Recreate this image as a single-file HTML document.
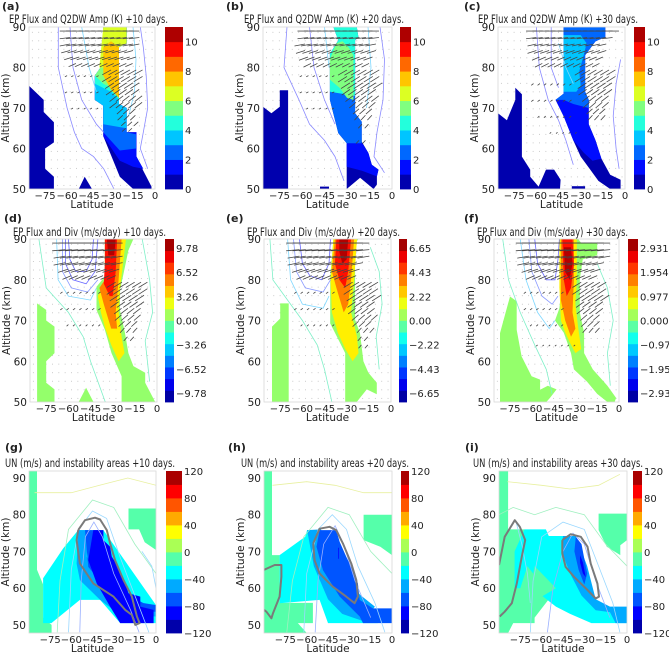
<!DOCTYPE html>
<html><head><meta charset="utf-8">
<style>
html,body{margin:0;padding:0;background:#fff;}
svg{display:block;font-family:"DejaVu Sans","Liberation Sans",sans-serif;}
</style></head>
<body>
<svg id="fig" width="669" height="652" viewBox="0 0 669 652" xmlns="http://www.w3.org/2000/svg"></svg>
<script>
// ---------- data (lat, alt) ----------
const ampTicks=[0,2,4,6,8,10];
const unTicks=[-120,-80,-40,0,40,80,120];
const divTicksD=[-9.78,-6.52,-3.26,0,3.26,6.52,9.78];
const divTicksE=[-6.65,-4.43,-2.22,0,2.22,4.43,6.65];
const divTicksF=[-2.931,-1.954,-0.977,0,0.977,1.954,2.931];
const latTicks=[-75,-60,-45,-30,-15,0];
const altTicks=[50,60,70,80,90];

const fillsA=[
 [0,[[-86,75.5],[-76,72],[-76,69],[-69,66.5],[-69,61.5],[-75,60],[-75,55],[-69,53],[-69,50],[-86,50]]],
 [0,[[-52,50],[-48,53],[-43,50]]],
 [0,[[-35.3,90],[-19.4,90],[-19.4,86],[-24.6,85],[-24.6,71],[-19.4,70],[-19.4,64],[-12.6,64],[-12.6,58],[-8,54.5],[-2.4,50.6],[-2.4,50],[-14.9,50],[-24,53],[-35.3,63],[-35.3,70.6],[-41,72],[-41,78],[-35.3,81]]],
 [1,[[-35.3,90],[-19.4,90],[-19.4,86],[-24.6,85],[-24.6,71],[-19.4,70],[-19.4,64],[-12.6,64],[-12.6,58],[-8,55],[-15,55.5],[-24,57],[-35.3,63],[-35.3,70.6],[-41,72],[-41,78],[-35.3,81]]],
 [2,[[-35.3,90],[-19.4,90],[-19.4,86],[-24.6,85],[-24.6,71],[-19.4,70],[-19.4,64],[-13,63.5],[-13,60],[-24,59.5],[-35.3,64],[-35.3,70.6],[-41,72],[-41,78],[-35.3,81]]],
 [3,[[-35.3,90],[-19.4,90],[-19.4,86],[-24.6,85],[-24.6,71],[-19.4,70],[-19.4,65],[-35.3,66],[-35.3,70.6],[-41,72],[-41,78],[-35.3,81]]],
 [4,[[-35.3,90],[-19.4,90],[-19.4,86],[-24.6,85],[-24.6,72],[-30,74],[-41,76],[-41,78],[-35.3,81]]],
 [5,[[-35.3,90],[-19.4,90],[-19.4,86],[-24.6,85],[-24.6,74],[-35.3,76],[-41,78],[-35.3,81]]],
 [6,[[-35.3,90],[-19.4,90],[-19.4,86],[-24.6,85],[-24.6,77],[-35.3,80],[-38,80]]],
 [7,[[-35.3,85],[-30,86.5],[-24.6,85],[-24.6,72.5],[-30,74.5],[-35.3,78]]]
];
const fillsB=[
 [0,[[-86,70.3],[-80.4,68.7],[-74.8,70.3],[-74.8,74.4],[-69.3,74.4],[-69.3,50],[-86,50]]],
 [0,[[-48,50],[-48,50.6],[-42,50.6],[-42,50]]],
 [0,[[-39.1,90],[-23.5,90],[-22.4,87.5],[-24.6,86.7],[-24.6,68.7],[-20.2,66.6],[-20.2,61.7],[-15.7,58.9],[-13.5,56],[-9,54.8],[-10.1,53.1],[-10.1,51.1],[-12.3,50],[-21.3,52.8],[-30.2,50],[-30.2,61.3],[-35.8,63.8],[-41.4,72],[-41.4,83.4],[-35.8,86.7]]],
 [1,[[-30.2,61.3],[-20.2,61.5],[-15.7,58.9],[-13.5,56],[-9,54.8],[-10.1,53.1],[-20,54.5],[-30.2,55.5]]],
 [2,[[-41.4,74],[-24.6,74],[-24.6,68.7],[-20.2,66.6],[-20.2,61.3],[-30.2,61.3],[-35.8,63.8],[-41.4,72]]],
 [4,[[-39.1,90],[-23.5,90],[-22.4,87.5],[-24.6,86.7],[-24.6,73],[-41.4,74],[-41.4,83.4],[-35.8,86.7]]],
 [5,[[-41.4,82],[-37,86],[-33,86.5],[-29,85],[-25.7,83],[-25.7,72],[-30,72.5],[-35,75],[-41.4,77]]]
];
const fillsC=[
 [0,[[-86,68.7],[-80,67],[-74.3,72],[-74.3,75],[-69.8,73.4],[-69.8,58],[-64.2,54.8],[-64.2,53],[-58.5,50.6],[-53.5,54.8],[-48,54.8],[-43.6,52.3],[-44,50],[-86,50]]],
 [0,[[-36,50],[-36,50.7],[-27,50.7],[-27,50]]],
 [0,[[-41.6,90],[-13.4,90],[-13.4,87.5],[-20,86.5],[-27,83],[-27,74],[-24.6,72],[-24.6,66],[-20,62],[-16,57.5],[-10,53.5],[-3,52.3],[-3,50],[-10,50],[-18,52],[-24,55],[-30,58],[-35,62],[-41.6,68],[-47,72],[-41.6,73.5]]],
 [1,[[-41.6,90],[-13.4,90],[-13.4,87.5],[-20,86.5],[-27,83],[-27,74],[-24.6,72],[-24.6,66],[-20,62],[-16,57.5],[-22,57],[-28,59],[-35,62],[-41.6,68],[-47,72],[-41.6,73.5]]],
 [2,[[-41.6,90],[-13.4,90],[-13.4,87.5],[-20,86.5],[-27,83],[-27,74],[-24.6,72],[-24.6,70],[-35,71],[-41.6,72],[-47,72],[-41.6,73.5]]],
 [3,[[-41.6,88],[-30,88],[-26,86],[-28,83],[-31,79],[-30,75.5],[-33,74],[-41.6,74]]]
];
const fillsD=[
 [0.52,[[-81.2,74.2],[-75,72.6],[-75,70],[-69.4,68.5],[-69.4,62],[-75,60],[-75,54.7],[-69.4,53.1],[-69.4,50],[-81.2,50]]],
 [0.52,[[-53,50],[-48,53.5],[-43,50]]],
 [0.52,[[-41,78.3],[-41,72.6],[-35.3,67.7],[-30.8,62],[-24,56.3],[-24,50],[-1.2,50],[-8,54.7],[-8,57.2],[-16,58.8],[-19.4,62],[-21.7,66.9],[-25.1,72.6],[-25,77.5],[-19.4,87.2],[-16,90],[-35.3,90],[-35.3,80.8]]],
 [0.64,[[-35.3,90],[-21,90],[-25,78],[-26,72],[-24,66],[-22,62],[-26,60],[-31,64],[-35,68],[-38,72],[-40,76],[-35.3,80]]],
 [0.75,[[-35.3,90],[-24,90],[-26,80],[-28,72],[-27,68],[-31,68],[-36,74],[-39,78],[-35.3,80]]],
 [0.86,[[-35.3,90],[-27,90],[-28,82],[-30,76],[-32,76],[-36,79],[-35.3,84]]],
 [0.95,[[-34,90],[-28,90],[-29,86],[-33,86]]]
];
const fillsE=[
 [0.52,[[-80.6,68.5],[-75,70.5],[-75,74.2],[-69.3,74.2],[-69.3,50],[-80.6,50]]],
 [0.52,[[-41.2,80.7],[-41.2,69.3],[-31,62],[-31,50],[-23.2,50],[-16.4,53.1],[-9.6,51.9],[-9.6,54.7],[-15.3,57.2],[-18.7,60],[-21,66.9],[-24.3,70.2],[-24.3,88.9],[-22,90],[-39,90]]],
 [0.64,[[-39,90],[-23,90],[-25,80],[-27,72],[-23,66],[-22,62],[-26,60],[-31,63],[-36,67],[-40,72],[-41,80]]],
 [0.75,[[-38,90],[-25,90],[-27,80],[-29,74],[-32,72],[-37,78],[-40,82]]],
 [0.86,[[-37,90],[-27,90],[-29,82],[-31,78],[-35,80],[-38,84]]],
 [0.95,[[-35,90],[-29,90],[-30,85],[-33,84],[-35,87]]]
];
const fillsF=[
 [0.52,[[-81.9,66.9],[-75,75.9],[-70.4,74.7],[-70.4,67.7],[-67,61.2],[-60.1,56.3],[-54.3,55.5],[-54.3,53],[-49,54],[-42.9,53.1],[-47.5,51],[-50,50],[-81.9,50]]],
 [0.52,[[-41,90],[-28,90],[-26,89],[-15,89],[-15,86],[-25,85],[-27,80],[-27,72],[-24,67],[-24,62],[-18,58],[-8,54],[-2,51],[-3,50],[-8,50],[-15,52],[-22,55],[-31,58],[-33,62],[-38,67],[-44,70],[-41,73],[-39,80]]],
 [0.64,[[-41,90],[-29,90],[-29,80],[-30,74],[-28,68],[-26,63],[-30,62],[-33,64],[-37,67],[-40,70],[-41,78]]],
 [0.75,[[-40,90],[-31,90],[-31,80],[-32,72],[-30,68],[-33,66],[-37,70],[-40,75]]],
 [0.86,[[-39,90],[-32,90],[-31,84],[-33,78],[-36,76],[-38,80]]],
 [0.95,[[-38,88],[-33,88],[-32,84],[-34,80],[-37,82]]]
];
const fillsG=[
 [5,[[-90,92],[-84.3,92],[-84.3,65],[-80,61],[-80,52],[-74,50],[-74,47.8],[-90,47.8]]],
 [5,[[-19.5,81.7],[0,81.7],[0,70.4],[-8,72.5],[-12,76],[-19.5,76]]],
 [4,[[-80,62.7],[-65.8,70.8],[-55.1,75.8],[-37.3,75.8],[0,55.4],[0,50.5],[-25.4,50.5],[-39.6,56.8],[-53.9,56.8],[-74.1,50.5],[-80,50.5]]],
 [3,[[-55.1,75.8],[-48,75.8],[-49.1,68.6],[-39.6,62.2],[-26.6,57.2],[0,55.4],[0,52.3],[-25.4,52.7],[-39.6,56.8],[-53.9,62.2],[-56.3,66.7]]],
 [2,[[-50.3,75.8],[-39.6,75.8],[-42,66.7],[-30,60.4],[-8.8,55.9],[0,55.4],[0,53.6],[-15.9,53.6],[-32.5,58.6],[-48,65.8]]],
 [1,[[-44.4,75.8],[-37.3,75.8],[-37.3,73.1],[-32.5,71.3],[-31.3,68.6],[-25.4,64.9],[-21.8,61.3],[-19.5,58.6],[-11.1,57.7],[-11.1,55],[-1.7,54.1],[-1.7,50.5],[-25.4,50.5],[-32.5,55],[-42,61.3],[-48,67.6]]]
];
const fillsH=[
 [5,[[-90,92],[-84.4,92],[-84.4,69],[-79,69],[-79,55],[-72,53],[-60,47.8],[-90,47.8]]],
 [5,[[-90,56],[-55.6,56],[-55.6,50.5],[-68,50.5],[-72,47.8],[-90,47.8]]],
 [5,[[-20,80],[0,80],[0,69],[-8.2,71.3],[-20,73.1]]],
 [4,[[-79,69],[-61,74],[-59.7,75.8],[-50.3,75.8],[-30,62],[-15,54.5],[-10,50.5],[-45,50.5],[-50.9,56.8],[-79,55.9]]],
 [3,[[-59.7,75.8],[-50,76],[-40,68],[-25,59],[-12,55],[-20,51],[-35,53],[-45,57],[-55,66]]],
 [2,[[-50.9,75.8],[-39.2,75.8],[-36.8,72.6],[-32.2,68.6],[-27.5,64.9],[-24,61.3],[-22.7,56.8],[-13.4,54.5],[0,54.5],[0,50.5],[-20.4,50.5],[-22.7,52.3],[-36.8,57.7],[-48.5,64.9],[-53.1,71.3]]],
 [1,[[-38,71],[-37.5,71],[-37.5,68],[-38,68]]]
];
const fillsI=[
 [5,[[-90,92],[-83.6,92],[-83.6,76],[-72,76],[-55,72],[-45,74],[-45,62],[-55,57],[-65,52],[-65,50.5],[-80,50.5],[-83.6,47.8],[-90,47.8]]],
 [5,[[-20,80.3],[0,80.3],[0,73.1],[-4.7,71.7],[-4.7,69],[-14.2,71.3],[-20,75.8]]],
 [4,[[-79,70],[-72,76],[-57,76],[-55,74.2],[-45,74.2],[-40,70],[-32,62],[-20,55],[-10,54],[0,54],[0,50.5],[-25,50.5],[-40,53],[-50,55],[-60,58],[-62,62],[-70,66],[-75,60],[-79,60]]],
 [5,[[-65,66],[-55,62],[-50,60],[-60,57.7],[-68,59]]],
 [3,[[-45,74.2],[-36,74.2],[-28,66],[-22,57],[-12,55],[0,55],[0,50.5],[-8,50.5],[-12,53.5],[-22,54],[-32,58],[-40,64],[-46,70]]],
 [2,[[-36,74],[-32,72],[-30,68],[-28,64],[-30,61],[-34,65],[-37,70]]],
 [1,[[-33,69],[-31,67],[-29,63],[-31,64],[-33,67]]]
];

const linesA=[
 ['#8a8aff',0.8,[[-66,90],[-66,80],[-60,70],[-55,64],[-50,60],[-42,58],[-35,55],[-28,50]]],
 ['#8a8aff',0.8,[[-58,90],[-56,80],[-50,72],[-40,66],[-35,64]]],
 ['#8a8aff',0.8,[[-10,90],[-8,85],[-6,78],[-5,70],[-8,64],[-10,60],[-5,55]]],
 ['#7fd8ff',0.8,[[-50,90],[-45,80],[-40,74]]],
 ['#7fd8ff',0.8,[[-15,90],[-13,82],[-14,74],[-18,68]]]
];
const linesB=[
 ['#8a8aff',0.8,[[-70,90],[-72,80],[-62,72],[-55,66],[-45,62],[-38,58],[-32,52]]],
 ['#8a8aff',0.8,[[-55,90],[-52,80],[-45,72],[-38,66]]],
 ['#8a8aff',0.8,[[-8,90],[-5,82],[-6,72],[-10,64],[-12,58],[-5,54]]],
 ['#7fd8ff',0.8,[[-45,90],[-42,80]]],
 ['#7fd8ff',0.8,[[-16,90],[-14,80],[-17,70]]]
];
const linesC=[
 ['#8a8aff',0.8,[[-60,90],[-58,80],[-52,72],[-45,67],[-40,62],[-35,56]]],
 ['#8a8aff',0.8,[[-50,90],[-50,80],[-45,75]]],
 ['#8a8aff',0.8,[[-3,82],[-6,76],[-8,68],[-6,60],[-4,55]]],
 ['#7fd8ff',0.8,[[-45,86],[-40,80],[-35,76]]]
];
const linesD=[
 ['#6a6aff',0.8,[[-62,90],[-62,84],[-57,80],[-48,79],[-42,82],[-40,90]]],
 ['#6a6aff',0.8,[[-60,90],[-59,85],[-55,82],[-48,82],[-44,85],[-43,90]]],
 ['#8a9aff',0.8,[[-64,90],[-64,82],[-58,78],[-47,77],[-40,80]]],
 ['#7fd8ff',0.8,[[-68,90],[-67,80],[-60,76],[-45,75],[-41,78]]],
 ['#7ff0c8',0.8,[[-80,90],[-75,78],[-70,76],[-60,72],[-50,66],[-45,60],[-40,55],[-35,50]]],
 ['#7ff0c8',0.8,[[-10,90],[-5,80],[-3,72],[-8,65],[-5,55]]]
];
const linesE=[
 ['#6a6aff',0.8,[[-62,90],[-60,84],[-55,81],[-47,80],[-42,84],[-41,90]]],
 ['#8a9aff',0.8,[[-66,90],[-64,82],[-58,78],[-46,77],[-41,80]]],
 ['#7fd8ff',0.8,[[-70,90],[-68,80],[-60,74],[-46,73],[-42,76]]],
 ['#7ff0c8',0.8,[[-82,90],[-80,80],[-72,76],[-60,70],[-50,64],[-45,58],[-40,50]]],
 ['#7ff0c8',0.8,[[-14,88],[-8,82],[-6,74],[-10,66],[-8,58]]]
];
const linesF=[
 ['#6a6aff',0.8,[[-58,90],[-56,84],[-50,80],[-44,80],[-42,85],[-41,90]]],
 ['#8a9aff',0.8,[[-62,90],[-60,82],[-53,76],[-46,74],[-42,76]]],
 ['#7fd8ff',0.8,[[-68,90],[-64,80],[-56,72],[-48,68],[-44,70]]],
 ['#7ff0c8',0.8,[[-80,90],[-76,80],[-68,72],[-58,64],[-50,58],[-46,52]]],
 ['#7ff0c8',0.8,[[-15,84],[-8,78],[-4,70],[-8,62],[-6,54]]]
];
const linesG=[
 ['#e8f0a0',0.8,[[-86,86],[-60,86],[-40,88],[-20,90],[0,88]]],
 ['#a0f0c0',0.8,[[-70,48],[-68,62],[-62,76],[-45,84],[-30,82],[-15,72],[0,64]]],
 ['#9ad8ff',0.8,[[-62,48],[-60,65],[-55,76],[-45,81],[-35,79],[-25,68],[-12,55],[-5,48]]],
 ['#9ab0ff',0.8,[[-54,48],[-53,62],[-50,74],[-44,78],[-38,74],[-30,64],[-18,54],[-12,48]]],
 ['#9ad8ff',0.8,[[-10,70],[-3,66],[0,60]]]
];
const linesH=[
 ['#e8f0a0',0.8,[[-84,88],[-60,89],[-40,88],[-20,86],[0,86]]],
 ['#a0f0c0',0.8,[[-74,48],[-70,62],[-62,74],[-45,82],[-30,80],[-15,70],[0,64]]],
 ['#9ad8ff',0.8,[[-62,48],[-60,64],[-52,76],[-42,80],[-32,76],[-24,66],[-12,56],[-5,48]]],
 ['#9ab0ff',0.8,[[-54,48],[-52,62],[-48,72],[-40,77],[-34,72],[-26,62],[-15,52]]]
];
const linesI=[
 ['#e8f0a0',0.8,[[-84,89],[-60,88],[-40,87],[-20,88],[-5,91]]],
 ['#a0f0c0',0.8,[[-90,80],[-80,82],[-65,80],[-50,82],[-30,80],[-15,72],[0,66]]],
 ['#9ad8ff',0.8,[[-68,48],[-66,62],[-60,74],[-45,78],[-30,76],[-20,66],[-10,56],[-5,48]]],
 ['#9ab0ff',0.8,[[-56,48],[-52,60],[-45,70],[-38,75],[-30,72],[-22,62],[-12,52]]],
 ['#9ad8ff',0.8,[[-78,78],[-74,72],[-70,64],[-68,56]]]
];
const grayG=[[[-55.1,75.8],[-50.3,78.5],[-43.2,79.2],[-39.6,78.7],[-34.9,75.8],[-32.5,72.2],[-29,67.6],[-23,62.2],[-17.1,57.7],[-13.5,52.3],[-11.6,50.5],[-14.7,50],[-17.1,52.7],[-21.8,54.1],[-30.1,57.7],[-44.4,61.3],[-53.9,66.7],[-56.3,73.1],[-55.1,75.8]]];
const grayH=[[[-55.4,72.2],[-50.9,76.2],[-43.9,76.7],[-39.2,75.8],[-34.5,72.2],[-28.6,66.7],[-25.1,62.2],[-24,57.7],[-26.3,55.9],[-32.2,57.7],[-41.6,60.4],[-50.9,64],[-54.4,67.6],[-55.4,72.2]],
 [[-90,65],[-82.5,66.3],[-77.8,66.3],[-77.8,63.1],[-79,57.7],[-83.7,53.2],[-84.8,51.8],[-88.3,53.6],[-90,54.1]]];
const grayI=[[[-45.5,73.1],[-39.6,74.7],[-32.5,74],[-27.8,71.3],[-25.5,66.7],[-20.8,61.3],[-19.7,57.7],[-22,57.2],[-27.8,59.5],[-37.3,63.1],[-43.2,65.8],[-45.5,69.5],[-45.5,73.1]],
 [[-90,66.3],[-86,74],[-78.9,78.5],[-75.4,76.7],[-71.6,73.1],[-74,68.6],[-77.5,61.3],[-81,55.9],[-86,53.6],[-89.5,52.3]]];

const fluxA=[[89,-58,-10,7,0],[87.4,-58,-10,7,0.3],[85.8,-58,-10,7,0.5],[84.2,-58,-12,6,0.6],[82.6,-56,-12,6,0.7],[81,-54,-12,5,0.8],[79.4,-30,-8,6,1.2],[77.8,-30,-8,6,1.3],[76.2,-28,-8,6,1.4],[74.6,-28,-8,5.5,1.4],[73,-26,-8,5,1.4],[71.4,-26,-8,5,1.4],[69.8,-22,-10,4,1.3],[68.2,-22,-10,3.5,1.2],[66.6,-20,-10,3,1],[65,-20,-12,2.5,0.8],[78,-60,-36,1.5,0.3],[74,-60,-36,1.5,0.3],[70,-56,-36,1.2,0.3]];
const fluxB=[[89,-56,-8,7,0],[87.4,-56,-8,7,0.3],[85.8,-58,-10,7,0.5],[84.2,-58,-10,6,0.7],[82.6,-56,-12,6,0.8],[81,-54,-12,5,0.9],[79.4,-30,-6,6,1.3],[77.8,-30,-6,6,1.4],[76.2,-28,-6,6,1.4],[74.6,-28,-8,5.5,1.4],[73,-26,-8,5,1.4],[71.4,-24,-10,4.5,1.4],[69.8,-22,-12,4,1.3],[68.2,-22,-12,3,1.2],[66,-20,-12,2.5,1],[62,-22,-14,2,0.8],[78,-60,-36,1.5,0.3],[74,-60,-36,1.5,0.3],[70,-56,-36,1.2,0.3]];
const fluxC=[[89,-60,-4,7,0],[87.4,-60,-8,7,0.3],[85.8,-60,-10,6,0.5],[84.2,-60,-12,6,0.7],[82.6,-58,-14,5,0.8],[81,-56,-14,5,0.9],[79.4,-28,-6,6,1.3],[77.8,-28,-6,6,1.4],[76.2,-26,-6,6,1.4],[74.6,-26,-8,5.5,1.4],[73,-24,-8,5,1.4],[71.4,-24,-10,4.5,1.4],[69.8,-22,-12,4,1.3],[68.2,-22,-12,3,1.2],[76,-62,-36,1.5,0.4],[72,-62,-36,1.5,0.4],[68,-58,-36,1.2,0.4],[64,-50,-30,1,0.3]];
const fluxD=[[89,-62,-20,9,0],[87.4,-62,-20,9,0.3],[85.8,-62,-20,8,0.5],[84.2,-62,-20,8,0.6],[82.6,-60,-22,7,0.8],[81,-58,-24,6,0.9],[79.4,-28,-6,6,1.3],[77.8,-28,-6,6,1.4],[76.2,-26,-6,6,1.4],[74.6,-26,-8,5.5,1.4],[73,-24,-8,5,1.4],[71.4,-24,-8,4.5,1.4],[69.8,-22,-10,4,1.3],[68.2,-22,-10,3,1.2],[66,-20,-12,2.5,1],[77,-64,-36,1.5,0.4],[73,-64,-36,1.5,0.4],[69,-60,-36,1.2,0.4]];
const fluxE=[[89,-62,-14,9,0],[87.4,-62,-14,9,0.3],[85.8,-62,-14,8,0.5],[84.2,-62,-16,8,0.6],[82.6,-60,-18,7,0.8],[81,-58,-20,6,0.9],[79.4,-26,-6,6,1.3],[77.8,-26,-6,6,1.4],[76.2,-24,-6,6,1.4],[74.6,-24,-8,5.5,1.4],[73,-24,-8,5,1.4],[71.4,-22,-8,4.5,1.4],[69.8,-22,-10,4,1.3],[68.2,-20,-10,3,1.2],[66,-20,-12,2.5,1],[64,-20,-12,2,0.8],[77,-64,-36,1.5,0.4],[73,-64,-36,1.5,0.4],[69,-60,-36,1.2,0.4]];
const fluxF=[[89,-62,-2,9,0],[87.4,-62,-4,9,0.3],[85.8,-62,-6,8,0.5],[84.2,-62,-10,8,0.6],[82.6,-60,-12,7,0.8],[81,-58,-14,6,0.9],[79.4,-26,-6,6,1.3],[77.8,-26,-6,6,1.4],[76.2,-24,-6,6,1.4],[74.6,-24,-8,5.5,1.4],[73,-24,-8,5,1.4],[71.4,-22,-10,4.5,1.4],[69.8,-22,-12,4,1.3],[68.2,-22,-12,3,1.2],[77,-64,-36,1.5,0.4],[73,-64,-36,1.5,0.4],[69,-60,-36,1.2,0.4],[64,-56,-30,1,0.3]];

const panels=[
 {k:'a',x0:29,x1:155,y0:27,y1:189,latMin:-86,altMin:50,altMax:90,cb:[165,183],kind:'amp',ticks:ampTicks,fills:fillsA,lines:linesA,flux:fluxA,gray:[],title:'EP Flux and Q2DW Amp (K) +10 days.',tx:9,tw:159,ty:23,lx:2,ly:10},
 {k:'b',x0:263,x1:392,y0:27,y1:189,latMin:-86,altMin:50,altMax:90,cb:[400,411],kind:'amp',ticks:ampTicks,fills:fillsB,lines:linesB,flux:fluxB,gray:[],title:'EP Flux and Q2DW Amp (K) +20 days.',tx:244,tw:160,ty:23,lx:226,ly:10},
 {k:'c',x0:498,x1:625,y0:27,y1:189,latMin:-86,altMin:50,altMax:90,cb:[634,645],kind:'amp',ticks:ampTicks,fills:fillsC,lines:linesC,flux:fluxC,gray:[],title:'EP Flux and Q2DW Amp (K) +30 days.',tx:478,tw:160,ty:23,lx:464,ly:10},
 {k:'d',x0:30,x1:157,y0:239,y1:402,latMin:-86,altMin:50,altMax:90,cb:[165,174],kind:'div',ticks:divTicksD,fills:fillsD,lines:linesD,flux:fluxD,gray:[],title:'EP Flux and Div (m/s/day) +10 days.',tx:13,tw:153,ty:236,lx:4,ly:222},
 {k:'e',x0:264,x1:391,y0:239,y1:402,latMin:-86,altMin:50,altMax:90,cb:[399,407],kind:'div',ticks:divTicksE,fills:fillsE,lines:linesE,flux:fluxE,gray:[],title:'EP Flux and Div (m/s/day) +20 days.',tx:247,tw:153,ty:236,lx:226,ly:222},
 {k:'f',x0:494,x1:619,y0:239,y1:402,latMin:-86,altMin:50,altMax:90,cb:[628,638],kind:'div',ticks:divTicksF,fills:fillsF,lines:linesF,flux:fluxF,gray:[],title:'EP Flux and Div (m/s/day) +30 days.',tx:477,tw:151,ty:236,lx:464,ly:222},
 {k:'g',x0:29,x1:156,y0:471,y1:633,latMin:-90,altMin:47.8,altMax:91.9,cb:[166,182],kind:'un',ticks:unTicks,fills:fillsG,lines:linesG,flux:[],gray:grayG,title:'UN (m/s) and instability areas +10 days.',tx:5,tw:170,ty:467,lx:5,ly:451},
 {k:'h',x0:264,x1:392,y0:471,y1:633,latMin:-90,altMin:47.8,altMax:91.9,cb:[401,409],kind:'un',ticks:unTicks,fills:fillsH,lines:linesH,flux:[],gray:grayH,title:'UN (m/s) and instability areas +20 days.',tx:241,tw:168,ty:467,lx:228,ly:451},
 {k:'i',x0:499,x1:627,y0:471,y1:633,latMin:-90,altMin:47.8,altMax:91.9,cb:[633,642],kind:'un',ticks:unTicks,fills:fillsI,lines:linesI,flux:[],gray:grayI,title:'UN (m/s) and instability areas +30 days.',tx:473,tw:170,ty:467,lx:465,ly:451}
];

const NS='http://www.w3.org/2000/svg';
const svg=document.getElementById('fig');
function mk(tag,attrs,parent){const e=document.createElementNS(NS,tag);for(const a in attrs)e.setAttribute(a,attrs[a]);(parent||svg).appendChild(e);return e;}
function jet(t){const c=v=>Math.round(255*Math.max(0,Math.min(1,v)));return 'rgb('+c(1.5-Math.abs(4*t-3))+','+c(1.5-Math.abs(4*t-2))+','+c(1.5-Math.abs(4*t-1))+')';}
function bandColor(p,v){if(p.kind==='amp')return jet((v+0.5)/11);if(p.kind==='un')return jet((v+0.5)/12);return jet(v);}

panels.forEach(p=>{
 const X=lat=>p.x0+(lat-p.latMin)/(0-p.latMin)*(p.x1-p.x0);
 const Y=alt=>p.y1-(alt-p.altMin)/(p.altMax-p.altMin)*(p.y1-p.y0);
 const g=mk('g',{});
 
 
 const cp=mk('clipPath',{id:'clip-'+p.k},g);
 mk('rect',{x:p.x0,y:p.y0,width:p.x1-p.x0,height:p.y1-p.y0},cp);
 const plot=mk('g',{'clip-path':'url(#clip-'+p.k+')'},g);
 
 
 if(p.kind!=='un'){
  for(let lat=p.latMin+2;lat<0;lat+=4.3)for(let alt=51;alt<90;alt+=2.1){
   mk('rect',{x:X(lat),y:Y(alt),width:0.9,height:0.9,fill:'#c0c0c0'},plot);
  }
 }
 p.fills.forEach((f,i)=>{
  const el=mk('polygon',{points:f[1].map(q=>X(q[0]).toFixed(1)+','+Y(q[1]).toFixed(1)).join(' '),fill:bandColor(p,f[0])},plot);
  
  
 });
 p.lines.forEach((l,i)=>{
  const el=mk('polyline',{points:l[2].map(q=>X(q[0]).toFixed(1)+','+Y(q[1]).toFixed(1)).join(' '),fill:'none',stroke:l[0],'stroke-width':l[1]},plot);
  
  
 });
 p.gray.forEach((l,i)=>{
  const el=mk('polyline',{points:l.map(q=>X(q[0]).toFixed(1)+','+Y(q[1]).toFixed(1)).join(' '),fill:'none',stroke:'#7a7a7a','stroke-width':2,'stroke-linejoin':'round'},plot);
  
  
 });
 p.flux.forEach(r=>{
  for(let lat=r[1];lat<=r[2];lat+=4.3){
   const el=mk('line',{x1:X(lat),y1:Y(r[0]),x2:X(lat-r[3]),y2:Y(r[0]-r[4]),stroke:'#444','stroke-width':0.8},plot);
   
   
  }
 });
 const fr=mk('rect',{x:p.x0,y:p.y0,width:p.x1-p.x0,height:p.y1-p.y0,fill:'none',stroke:'#d8d8d8','stroke-width':0.8},g);
 
 
 latTicks.forEach(t=>{
  const tx=mk('text',{x:X(t),y:p.y1+10,'font-size':10,'text-anchor':'middle',fill:'#222'},g);
  tx.textContent=t===0?'0':'\u2212'+Math.abs(t);
  
  
 });
 altTicks.forEach(t=>{
  const tx=mk('text',{x:p.x0-3,y:Y(t)+4,'font-size':10.5,'text-anchor':'end',fill:'#222'},g);
  tx.textContent=t;
  
  
 });
 const xl=mk('text',{x:(p.x0+p.x1)/2,y:p.y1+19,'font-size':10.5,'text-anchor':'middle',fill:'#222'},g);
 xl.textContent='Latitude';
 
 
 const yc=(p.y0+p.y1)/2, yx=p.x0-20;
 const yl=mk('text',{x:yx,y:yc,'font-size':10.5,'text-anchor':'middle',fill:'#222',transform:'rotate(-90 '+yx+' '+yc+')'},g);
 yl.textContent='Altitude (km)';
 
 
 const ti=mk('text',{x:p.tx,y:p.ty,'font-size':11.5,fill:'#222',textLength:p.tw,lengthAdjust:'spacingAndGlyphs'},g);
 ti.textContent=p.title;
 
 
 const lb=mk('text',{x:p.lx,y:p.ly,'font-size':11,'font-weight':'bold',fill:'#222'},g);
 lb.textContent='('+p.k+')';
 
 
 const cb=mk('g',{},g);
 
 
 let n,vmin,vmax,tcol;
 if(p.kind==='amp'){n=11;vmin=0;vmax=11;tcol=i=>jet((i+0.5)/11);}
 else if(p.kind==='un'){n=12;vmin=-120;vmax=120;tcol=i=>jet((i+0.5)/12);}
 else {n=14;vmax=p.ticks[6]*1.123;vmin=-vmax;tcol=i=>jet((i+0.5)/14);}
 const h=(p.y1-p.y0)/n;
 for(let i=0;i<n;i++){
  mk('rect',{x:p.cb[0],y:p.y1-(i+1)*h,width:p.cb[1]-p.cb[0],height:h+0.4,fill:tcol(i)},cb);
 }
 p.ticks.forEach(t=>{
  const ty=p.y1-(t-vmin)/(vmax-vmin)*(p.y1-p.y0);
  const tx=mk('text',{x:p.cb[1]+2,y:ty+4,'font-size':10,fill:'#222'},cb);
  let s;
  if(p.kind==='div'){s=(t<0?'\u2212':'')+Math.abs(t).toFixed(p.k==='f'?3:2);}
  else s=(t<0?'\u2212':'')+Math.abs(t);
  tx.textContent=s;
  
  
 });
});
</script>
</body></html>
